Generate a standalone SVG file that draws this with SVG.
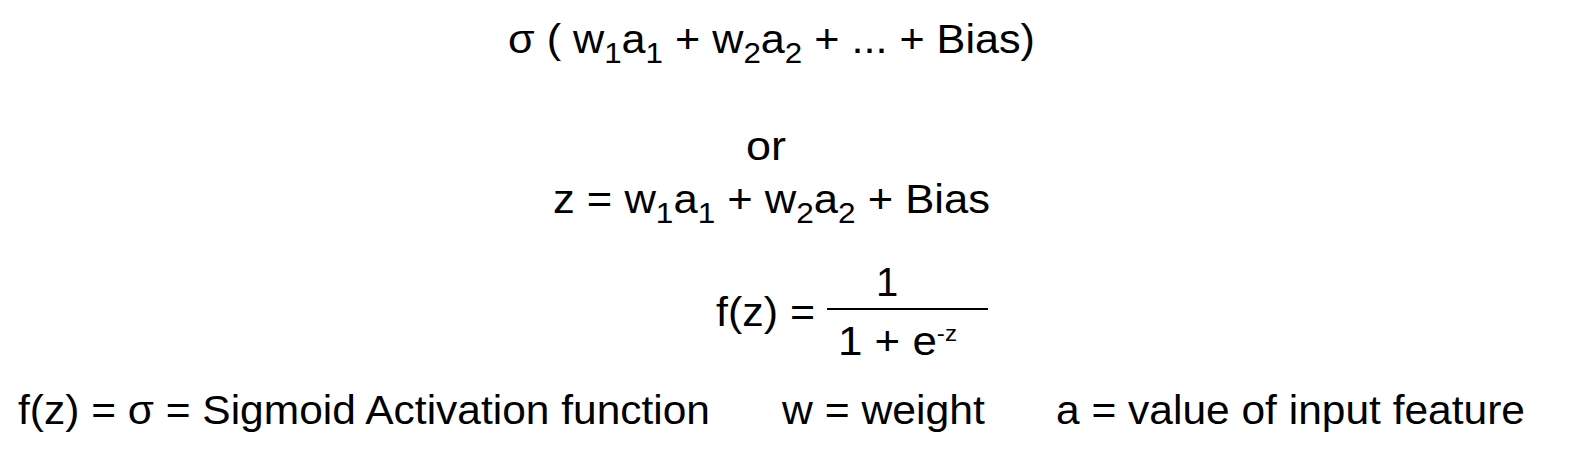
<svg xmlns="http://www.w3.org/2000/svg" width="1590" height="456" viewBox="0 0 1590 456">
<style>
text{font-family:"Liberation Sans",Arial,sans-serif;font-size:40px;fill:#000}
.s{font-size:29px}
</style>
<rect width="1590" height="456" fill="#fff"/>
<text x="508" y="53" textLength="527" lengthAdjust="spacingAndGlyphs">σ ( w<tspan class="s" dy="10">1</tspan><tspan dy="-10">a</tspan><tspan class="s" dy="10">1</tspan><tspan dy="-10"> + w</tspan><tspan class="s" dy="10">2</tspan><tspan dy="-10">a</tspan><tspan class="s" dy="10">2</tspan><tspan dy="-10"> + ... + Bias)</tspan></text>
<text x="746" y="160" textLength="40" lengthAdjust="spacingAndGlyphs">or</text>
<text x="553" y="213" textLength="437" lengthAdjust="spacingAndGlyphs">z = w<tspan class="s" dy="10">1</tspan><tspan dy="-10">a</tspan><tspan class="s" dy="10">1</tspan><tspan dy="-10"> + w</tspan><tspan class="s" dy="10">2</tspan><tspan dy="-10">a</tspan><tspan class="s" dy="10">2</tspan><tspan dy="-10"> + Bias</tspan></text>
<text x="716" y="326" textLength="99" lengthAdjust="spacingAndGlyphs">f(z) =</text>
<text x="876" y="296">1</text>
<line x1="827" y1="309" x2="988" y2="309" stroke="#000" stroke-width="2"/>
<text x="838" y="355" textLength="119" lengthAdjust="spacingAndGlyphs">1 + e<tspan dy="-14" font-size="22">-z</tspan></text>
<text x="18" y="424" textLength="692" lengthAdjust="spacingAndGlyphs">f(z) = σ = Sigmoid Activation function</text>
<text x="782" y="424" textLength="203" lengthAdjust="spacingAndGlyphs">w = weight</text>
<text x="1056" y="424" textLength="469" lengthAdjust="spacingAndGlyphs">a = value of input feature</text>
</svg>
